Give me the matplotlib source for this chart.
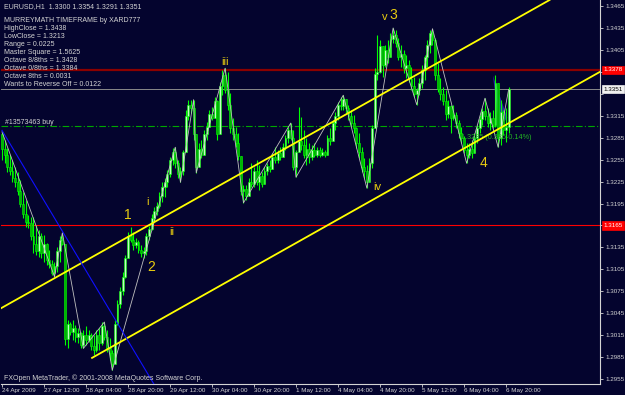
import matplotlib
matplotlib.use('Agg')
import matplotlib.pyplot as plt
import matplotlib.transforms as mtransforms
import numpy as np

plt.rcParams['font.family'] = ['Liberation Sans', 'DejaVu Sans']

# EURUSD H1, 24 Apr 2009 20:00 .. 6 May 2009 21:00 (prices in points, 13293 = 1.3293)
highs = [13293, 13282, 13271, 13261, 13254, 13245, 13238, 13227, 13211, 13200,
         13179, 13177, 13177, 13166, 13159, 13155, 13152, 13141, 13131, 13118,
         13115, 13136, 13151, 13155, 13138, 13036, 13033, 13036, 13029, 13025,
         13019, 13022, 13028, 13022, 13018, 13015, 13022, 13025, 13033, 13033,
         13022, 13011, 12995, 13036, 13063, 13081, 13101, 13125, 13156, 13163,
         13156, 13148, 13145, 13138, 13136, 13155, 13164, 13181, 13190, 13197,
         13211, 13224, 13230, 13241, 13259, 13271, 13272, 13254, 13245, 13268,
         13323, 13337, 13337, 13337, 13282, 13278, 13282, 13295, 13306, 13323,
         13327, 13341, 13337, 13361, 13378, 13380, 13375, 13346, 13312, 13300,
         13291, 13254, 13220, 13220, 13230, 13250, 13245, 13254, 13248, 13238,
         13245, 13250, 13254, 13264, 13272, 13268, 13272, 13278, 13289, 13300,
         13305, 13295, 13268, 13327, 13313, 13295, 13285, 13278, 13275, 13278,
         13272, 13272, 13271, 13268, 13289, 13298, 13309, 13320, 13334, 13341,
         13343, 13337, 13330, 13323, 13316, 13300, 13291, 13272, 13257, 13248,
         13257, 13302, 13380, 13425, 13419, 13402, 13412, 13419, 13428, 13435,
         13432, 13421, 13412, 13405, 13398, 13391, 13382, 13368, 13353, 13367,
         13384, 13398, 13419, 13432, 13434, 13421, 13387, 13367, 13354, 13350,
         13337, 13330, 13330, 13320, 13309, 13300, 13287, 13278, 13278, 13282,
         13291, 13302, 13316, 13326, 13339, 13326, 13320, 13323, 13371, 13354,
         13337, 13323, 13326, 13354]
lows = [13255, 13250, 13238, 13234, 13224, 13218, 13207, 13190, 13175, 13163,
        13162, 13145, 13127, 13125, 13122, 13121, 13115, 13111, 13107, 13097,
        13095, 13101, 13115, 13138, 13002, 12997, 13015, 13008, 13006, 13004,
        12997, 12997, 13002, 13006, 12995, 12988, 12992, 12995, 13002, 13008,
        12992, 12981, 12967, 12977, 13029, 13052, 13070, 13093, 13125, 13142,
        13131, 13134, 13127, 13122, 13121, 13125, 13145, 13159, 13170, 13179,
        13189, 13197, 13204, 13218, 13231, 13248, 13243, 13230, 13224, 13234,
        13268, 13309, 13319, 13282, 13237, 13248, 13257, 13268, 13282, 13300,
        13309, 13319, 13282, 13306, 13343, 13346, 13323, 13291, 13282, 13272,
        13254, 13207, 13196, 13200, 13211, 13218, 13218, 13221, 13213, 13218,
        13227, 13234, 13238, 13245, 13250, 13250, 13254, 13259, 13268, 13278,
        13282, 13241, 13231, 13272, 13268, 13257, 13248, 13250, 13254, 13259,
        13259, 13259, 13260, 13259, 13271, 13275, 13282, 13295, 13309, 13323,
        13323, 13319, 13309, 13300, 13291, 13271, 13257, 13238, 13230, 13216,
        13227, 13244, 13316, 13364, 13373, 13368, 13382, 13387, 13402, 13414,
        13409, 13391, 13382, 13373, 13367, 13361, 13350, 13341, 13330, 13343,
        13353, 13364, 13382, 13401, 13412, 13364, 13347, 13337, 13330, 13309,
        13312, 13291, 13309, 13298, 13285, 13278, 13264, 13250, 13257, 13257,
        13268, 13278, 13291, 13302, 13309, 13300, 13295, 13298, 13300, 13272,
        13275, 13289, 13279, 13291]
closes = [13270, 13262, 13245, 13240, 13230, 13225, 13212, 13195, 13180, 13170,
          13168, 13150, 13140, 13130, 13150, 13128, 13140, 13118, 13112, 13100,
          13110, 13130, 13145, 13140, 13010, 13030, 13020, 13025, 13012, 13018,
          13002, 13015, 13008, 13015, 13000, 12995, 13015, 13005, 13028, 13012,
          12998, 12990, 12975, 13030, 13058, 13075, 13095, 13120, 13150, 13145,
          13138, 13142, 13132, 13128, 13130, 13150, 13160, 13175, 13185, 13192,
          13205, 13218, 13225, 13236, 13255, 13265, 13250, 13235, 13240, 13265,
          13315, 13330, 13325, 13290, 13245, 13270, 13262, 13290, 13300, 13318,
          13312, 13335, 13290, 13355, 13370, 13350, 13330, 13298, 13290, 13278,
          13260, 13212, 13215, 13205, 13225, 13222, 13240, 13225, 13232, 13222,
          13240, 13246, 13242, 13258, 13255, 13264, 13258, 13272, 13285, 13295,
          13285, 13245, 13265, 13280, 13275, 13262, 13270, 13258, 13268, 13262,
          13268, 13262, 13266, 13262, 13285, 13280, 13305, 13315, 13330, 13328,
          13338, 13325, 13315, 13305, 13298, 13278, 13265, 13245, 13240, 13225,
          13250, 13298, 13372, 13375, 13410, 13385, 13405, 13395, 13420, 13425,
          13415, 13395, 13400, 13380, 13385, 13365, 13355, 13345, 13350, 13360,
          13378, 13395, 13412, 13428, 13418, 13370, 13352, 13345, 13335, 13318,
          13328, 13312, 13316, 13305, 13292, 13285, 13268, 13262, 13270, 13264,
          13285, 13298, 13310, 13322, 13315, 13305, 13312, 13302, 13360, 13285,
          13320, 13295, 13300, 13351]
first_open = 13290

time_tick_bars = [0, 16, 32, 48, 64, 80, 96, 112, 128, 144, 160, 176, 192]
time_tick_labels = ['24 Apr 2009', '27 Apr 12:00', '28 Apr 04:00', '28 Apr 20:00',
                    '29 Apr 12:00', '30 Apr 04:00', '30 Apr 20:00', '1 May 12:00',
                    '4 May 04:00', '4 May 20:00', '5 May 12:00', '6 May 04:00',
                    '6 May 20:00']
price_ticks = [12955, 12985, 13015, 13045, 13075, 13105, 13135, 13165, 13195,
               13225, 13255, 13285, 13315, 13345, 13375, 13405, 13435, 13465]

# zigzag swing points (bar, price)
zz_bars = [0, 20, 23, 31, 39, 42, 66, 68, 73, 74, 85, 92, 110, 112, 130, 139,
           149, 158, 164, 177, 184, 189, 193]
zz_prices = [13293, 13095, 13155, 12997, 13033, 12967, 13272, 13224, 13337, 13237,
             13380, 13196, 13305, 13231, 13343, 13216, 13435, 13330, 13434, 13250,
             13339, 13272, 13351]

# trend lines, two anchors each (bar, price)
upper_channel = [(-0.8, 13051), (208.0, 13472)]
lower_channel = [(34.3, 12984), (227.8, 13375)]
blue_line = [(0.0, 13295), (57.9, 12948)]

# horizontal levels
buy_level = 13301
bid_level = 13351
octave_level = 13378
murrey_level = 13165

# elliott wave labels (text, bar, price, size)
wave_labels = [('1', 47.8, 13179, 10), ('i', 55.6, 13197, 8), ('ii', 64.8, 13156, 8),
               ('2', 56.8, 13108, 10), ('iii', 85.0, 13388, 8), ('v', 145.9, 13450, 8),
               ('3', 148.9, 13453, 10), ('iv', 142.9, 13218, 8), ('4', 183.6, 13250, 10)]

header_lines = ['MURREYMATH TIMEFRAME by XARD777', 'HighClose = 1.3438', 'LowClose = 1.3213',
                'Range = 0.0225', 'Master Square = 1.5625', 'Octave 8/8ths = 1.3428',
                'Octave 0/8ths = 1.3384', 'Octave 8ths = 0.0031',
                'Wants to Reverse Off = 0.0122']

BG = '#04042e'
FG = '#d4d4d4'
FS = 5.0     # chart texts
AFS = 4.5    # scale labels
W, H = 625, 395

fig = plt.figure(figsize=(W / 100, H / 100), dpi=100, facecolor=BG)
ax = fig.add_axes([1 / W, (H - 384) / H, 599 / W, 384 / H], facecolor=BG)

def P(v):
    return np.asarray(v, dtype=float) / 10000.0

hi = P(highs)
lo = P(lows)
cl = P(closes)
op = np.concatenate([[first_open / 10000.0], cl[:-1]])
x = np.arange(len(cl))

# levels
ax.axhline(P(octave_level), color='#8b0000', lw=1.6, zorder=1)
ax.axhline(P(bid_level), color='#8a8a8a', lw=0.7, zorder=1)
ax.axhline(P(buy_level), color='#00a800', lw=0.8, dashes=(6, 2, 1, 2), zorder=1)
ax.axhline(P(murrey_level), color='#ff0000', lw=0.8, zorder=1)

# small shaded triangle
ax.fill([187.0, 189.5, 192.5], P([13370, 13300, 13312]), color='#2a2aa8', zorder=1.5, lw=0)

# candles
top = np.maximum(op, cl)
bot = np.minimum(op, cl)
ax.vlines(x, np.minimum(lo, bot), np.maximum(hi, top), color='#00ff00', lw=0.8, zorder=2)
up = cl >= op
hgt = np.maximum(top - bot, 0.00005)
ax.bar(x[up], hgt[up], bottom=bot[up], width=0.75, color='#c0ffc0',
       edgecolor='#00ff00', linewidth=0.4, zorder=2.2)
ax.bar(x[~up], hgt[~up], bottom=bot[~up], width=0.75, color='#00b400',
       edgecolor='#00ff00', linewidth=0.4, zorder=2.2)

# zigzag
ax.plot(zz_bars, P(zz_prices), color='#c0c0c0', lw=0.6, zorder=3)

# trend lines
(ux0, uy0), (ux1, uy1) = upper_channel
ax.axline((ux0, P(uy0)), (ux1, P(uy1)), color='#ffff00', lw=1.3, zorder=4)
(lx0, ly0), (lx1, ly1) = lower_channel
ax.plot([lx0, lx1], P([ly0, ly1]), color='#ffff00', lw=1.3, zorder=4)
(bx0, by0), (bx1, by1) = blue_line
ax.plot([bx0, bx1 + 2], [P(by0), P(by0) + (P(by1) - P(by0)) * (bx1 + 2 - bx0) / (bx1 - bx0)],
        color='#1010ff', lw=0.8, zorder=4)

for txt, bx, by, sz in wave_labels:
    ax.text(bx, P(by), txt, color='#e8cc10', fontsize=sz, ha='center', va='center', zorder=5)

ax.text(175.0, P(13285), '1.3285 (0.386-0.14%)', color='#22b822', fontsize=5.2,
        ha='left', va='center', zorder=3.5)

ax.set_xlim(-0.38, 227.81)
ax.set_ylim(1.29483, 1.34732)

# axes styling
for s in ['top', 'left']:
    ax.spines[s].set_visible(False)
for s in ['right', 'bottom']:
    ax.spines[s].set_color(FG)
    ax.spines[s].set_linewidth(0.8)

# these scale labels sit under the level boxes
boxed = [13375, 13345, 13165]
ax.yaxis.tick_right()
ax.set_yticks(P(price_ticks))
ax.set_yticklabels(['' if t in boxed else '%.4f' % (t / 10000.0) for t in price_ticks])
ax.set_xticks(time_tick_bars)
ax.set_xticklabels(time_tick_labels)
ax.tick_params(axis='y', colors=FG, labelsize=AFS, length=2.5, width=0.6, pad=1.5)
ax.tick_params(axis='x', colors=FG, labelsize=AFS, length=2.5, width=0.6, pad=0.5)
for lab in ax.get_xticklabels():
    lab.set_ha('left')

# price boxes on right scale
trans = mtransforms.blended_transform_factory(ax.transAxes, ax.transData)
for lvl, fc, tc in [(octave_level, '#ff0000', '#ffffff'), (murrey_level, '#ff0000', '#ffffff'),
                    (bid_level, '#f0f0f0', '#000000')]:
    ax.text(1.006, P(lvl), '%.4f' % P(lvl), transform=trans, color=tc, fontsize=AFS,
            ha='left', va='center', zorder=6, clip_on=False,
            bbox=dict(boxstyle='square,pad=0.25', fc=fc, ec=fc, lw=0.5))

def fpos(px, py):
    return px / W, 1 - py / H

fig.text(*fpos(4, 7), 'EURUSD,H1  1.3300 1.3354 1.3291 1.3351', color=FG, fontsize=FS, va='center')
for k, line in enumerate(header_lines):
    fig.text(*fpos(4, 21 + 8 * k), line, color=FG, fontsize=FS, va='center')
fig.text(*fpos(5, 122), '#13573463 buy', color=FG, fontsize=FS, va='center')
fig.text(*fpos(4, 378), 'FXOpen MetaTrader, \u00a9 2001-2008 MetaQuotes Software Corp.',
         color=FG, fontsize=FS, va='center')

fig.savefig('out.png', dpi=100, facecolor=BG)
